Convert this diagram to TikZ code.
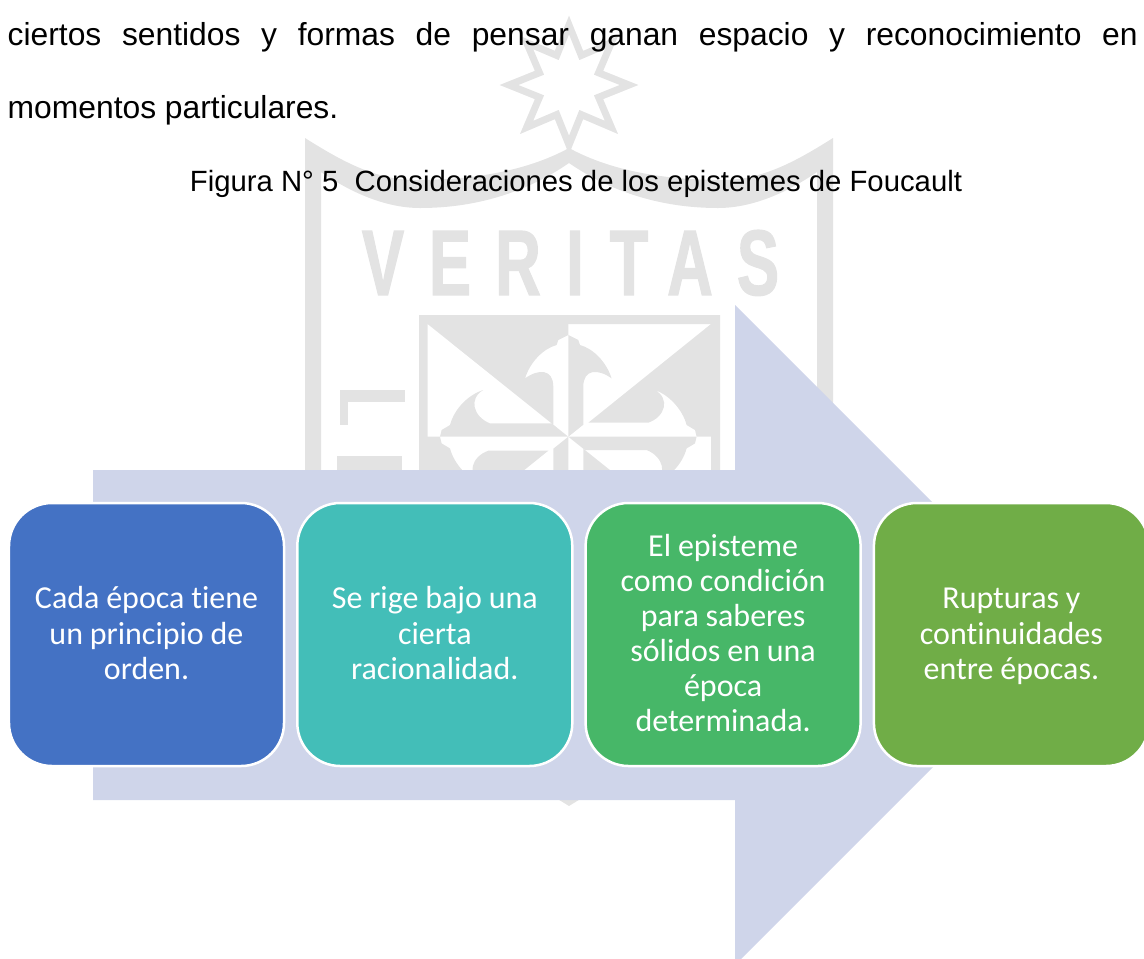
\documentclass[tikz,border=0pt]{standalone}
\usepackage{fontspec}
\setmainfont{Liberation Sans}
\newfontfamily\boxfont[Ligatures=NoCommon]{Carlito}
\newfontfamily\sealfont[FakeStretch=0.68,FakeBold=1.2]{Liberation Sans Bold}
\definecolor{sealgray}{HTML}{E3E3E3}
\definecolor{arrowfill}{HTML}{CFD5EA}
\definecolor{stepblue}{HTML}{4472C4}
\definecolor{stepteal}{HTML}{43BEB8}
\definecolor{stepgreen}{HTML}{47B768}
\definecolor{steplime}{HTML}{70AD47}
\tikzset{
    seal/.style={fill=sealgray, draw=none},
    sealletter/.style={inner sep=0, text=sealgray, anchor=base, font=\sealfont\fontsize{26.5}{26.5}\selectfont},
    bodyline/.style={inner sep=0, text=black, font=\fontsize{9.05}{10}\selectfont},
    captionline/.style={inner sep=0, text=black, font=\fontsize{8.335}{10}\selectfont},
    stepbox/.style={draw=white, line width=0.025cm, rounded corners=0.43cm, minimum width=2.75cm, minimum height=2.63cm,
        text=white, text width=2.6cm, align=center, inner sep=0, font=\boxfont\fontsize{9.1}{9.99}\selectfont,
        execute at begin node={\spaceskip=1.95pt\relax\rule{0pt}{7.2pt}}, execute at end node={\rule[-1.8pt]{0pt}{1.8pt}}},
}

\begin{document}
\begin{tikzpicture}
        \clip (0, 0) rectangle (11.44, -9.58);

        \fill[seal, even odd rule]
            (3.05, -1.38) .. controls (3.4, -1.6) and (3.75, -1.8) .. (4.15, -1.8)
            .. controls (4.7, -1.8) and (5.25, -1.72) .. (5.69, -1.48)
            .. controls (6.13, -1.72) and (6.68, -1.8) .. (7.23, -1.8)
            .. controls (7.63, -1.8) and (7.98, -1.6) .. (8.33, -1.38)
            -- (8.33, -5.5) .. controls (8.33, -7) and (6.9, -7.3) .. (5.69, -8.06)
            .. controls (4.48, -7.3) and (3.05, -7) .. (3.05, -5.5) -- cycle
            (3.21, -1.72) .. controls (3.5, -1.92) and (3.85, -2.08) .. (4.2, -2.08)
            .. controls (4.8, -2.08) and (5.3, -1.9) .. (5.69, -1.63)
            .. controls (6.08, -1.9) and (6.58, -2.08) .. (7.18, -2.08)
            .. controls (7.53, -2.08) and (7.88, -1.92) .. (8.17, -1.72)
            -- (8.17, -5.5) .. controls (8.17, -6.8) and (6.8, -7.1) .. (5.69, -7.8)
            .. controls (4.58, -7.1) and (3.21, -6.8) .. (3.21, -5.5) -- cycle;

        \begin{scope}[shift={(5.69, -0.85)}]
            \draw[draw=sealgray, line width=0.07cm, line join=miter, miter limit=10]
                (90:0.6)
                \foreach \a in {112.5, 157.5, 202.5, 247.5, 292.5, 337.5, 382.5, 427.5} {
                    -- (\a:0.32) -- (\a+22.5:0.6)
                } -- cycle;
        \end{scope}

        \node[sealletter] (v) at (3.83, -2.95) {V};
        \node[sealletter] (e) at (4.5, -2.95) {E};
        \node[sealletter] (r) at (5.18, -2.95) {R};
        \node[sealletter] (i) at (5.75, -2.95) {I};
        \node[sealletter] (t) at (6.29, -2.95) {T};
        \node[sealletter] (a) at (6.9, -2.95) {A};
        \node[sealletter] (s) at (7.58, -2.95) {S};

        \fill[seal] (3.4, -3.9) rectangle (4.05, -4.02);
        \fill[seal] (3.4, -4.02) rectangle (3.48, -4.25);
        \fill[seal] (3.37, -4.56) rectangle (4.02, -4.75);

        \fill[seal, even odd rule] (4.19, -3.15) rectangle (7.2, -5.59) (4.277, -3.24) rectangle (7.11, -5.49);
        \foreach \r in {0, 180} {
            \begin{scope}[shift={(5.683, -4.367)}, rotate=\r]
                \fill[seal] (-1.407, 1.127) -- (0, 1.127) -- (0, 1.017) -- (-0.1, 0.967) -- (-0.117, 0.917)
                    .. controls (-0.25, 0.88) and (-0.38, 0.75) .. (-0.433, 0.583)
                    .. controls (-0.3, 0.68) and (-0.15, 0.68) .. (-0.15, 0.5) -- (-0.15, 0.12) -- cycle;
                \fill[seal] (-0.85, 0.467) .. controls (-1, 0.42) and (-1.14, 0.28) .. (-1.183, 0.117)
                    -- (-1.267, 0.067) -- (-1.283, 0) -- (0, 0) -- (-0.166, 0.133) -- (-0.783, 0.133)
                    .. controls (-0.95, 0.2) and (-1, 0.38) .. (-0.85, 0.467);
                \fill[seal] (0, 1.017) -- (0.1, 0.967) -- (0.117, 0.917)
                    .. controls (0.25, 0.88) and (0.38, 0.75) .. (0.433, 0.583)
                    .. controls (0.3, 0.68) and (0.15, 0.68) .. (0.15, 0.5) -- (0.15, 0.12) -- (0, 0) -- cycle;
                \fill[seal] (1.427, 1.127) -- (0.2, 0.14) -- (0.8, 0.14)
                    .. controls (0.97, 0.2) and (1.02, 0.38) .. (0.867, 0.467)
                    .. controls (1, 0.42) and (1.14, 0.28) .. (1.183, 0.117)
                    -- (1.267, 0.067) -- (1.283, 0) -- (1.427, 0) -- cycle;
            \end{scope}
        }

        \node[bodyline, anchor=base west] (line1) at (0.07, -0.45)
            {\makebox[11.3cm][s]{ciertos sentidos y formas de pensar ganan espacio y reconocimiento en}};
        \node[bodyline, anchor=base west] (line2) at (0.07, -1.18) {momentos particulares.};
        \node[captionline, anchor=base] (caption) at (5.76, -1.91)
            {Figura N° 5\ \ Consideraciones de los epistemes de Foucault};

        \fill[arrowfill] (0.93, -4.7) -- (7.35, -4.7) -- (7.35, -3.05) -- (10.65, -6.35)
            -- (7.35, -9.65) -- (7.35, -8) -- (0.93, -8) -- cycle;

        \node[stepbox, fill=stepblue] (order) at (1.465, -6.345) {Cada época tiene\\un principio de\\orden.};
        \node[stepbox, fill=stepteal] (reason) at (4.348, -6.345) {Se rige bajo una\\cierta\\racionalidad.};
        \node[stepbox, fill=stepgreen] (episteme) at (7.231, -6.345)
            {El episteme\\como condición\\para saberes\\sólidos en una\\época\\determinada.};
        \node[stepbox, fill=steplime] (breaks) at (10.114, -6.345) {Rupturas y\\continuidades\\entre épocas.};
    \end{tikzpicture}
\end{document}
